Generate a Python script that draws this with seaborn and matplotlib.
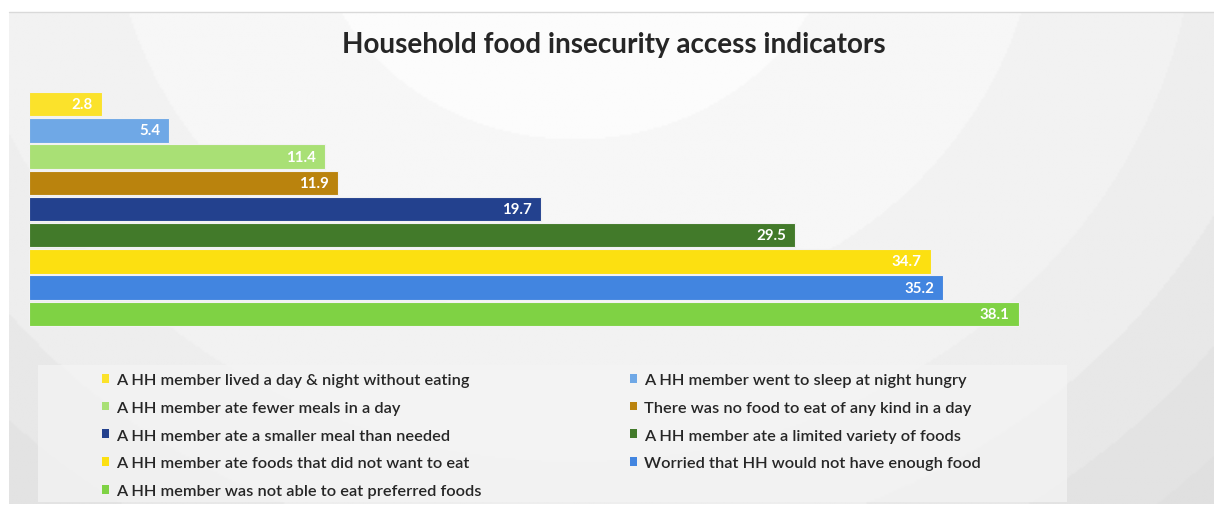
import numpy as np
import pandas as pd
import matplotlib
matplotlib.use("Agg")
import matplotlib.pyplot as plt
from matplotlib.patches import Rectangle, Patch
import seaborn as sns

indicators = [
    "A HH member lived a day & night without eating",
    "A HH member went to sleep at night hungry",
    "A HH member ate fewer meals in a day",
    "There was no food to eat of any kind in a day",
    "A HH member ate a smaller meal than needed",
    "A HH member ate a limited variety of foods",
    "A HH member ate foods that did not want to eat",
    "Worried that HH would not have enough food",
    "A HH member was not able to eat preferred foods",
]
percent = [2.8, 5.4, 11.4, 11.9, 19.7, 29.5, 34.7, 35.2, 38.1]
bar_colors = ["#FBE22B", "#6FA8E6", "#A9E075", "#BA830D", "#23418E",
              "#427A2A", "#FCE011", "#4285E0", "#7FD244"]

title = "Household food insecurity access indicators"

W, H = 1214, 506
sns.set_theme(style="white")
plt.rcParams["font.family"] = ["Lato", "DejaVu Sans"]

fig = plt.figure(figsize=(W / 100, H / 100), dpi=100)
fig.patch.set_facecolor("white")


def px_box(x0, y0, x1, y1):
    return [x0 / W, 1 - y1 / H, (x1 - x0) / W, (y1 - y0) / H]


# Panel background: banded radial shading, light at top centre
bg = fig.add_axes(px_box(9, 13, W, 505))
bg.set_axis_off()
gx = np.linspace(9, W, 600)
gy = np.linspace(13, 505, 260)
XX, YY = np.meshgrid(gx, gy)
d = np.sqrt(((XX - 575) / 265.0) ** 2 + ((YY + 100) / 240.0) ** 2)
levels = np.array([1.0, 1.75, 2.35, 2.75, 3.05, 3.35])
shades = np.array([0.988, 0.968, 0.948, 0.93, 0.91, 0.89, 0.875])
band = np.searchsorted(levels, d)
img = shades[band]
bg.imshow(img, cmap="gray", vmin=0, vmax=1, aspect="auto",
          extent=(0, 1, 0, 1), interpolation="bilinear")
bg.set_xlim(0, 1)
bg.set_ylim(0, 1)
# thin shadow line on the panel top
fig.add_artist(plt.Line2D([9 / W, 1], [1 - 13 / H, 1 - 13 / H],
                          color="#d9d9d9", lw=1.0))

# Legend box behind the legend
fig.add_artist(Rectangle((38 / W, 1 - 503 / H), (1067 - 38) / W, (503 - 366) / H,
                         transform=fig.transFigure, facecolor="#f4f4f4",
                         alpha=0.75, edgecolor="none", zorder=1))

# Bars
ax = fig.add_axes(px_box(29, 92, 1185, 328))
ax.patch.set_alpha(0)
df = pd.DataFrame({"indicator": indicators, "percent": percent})
sns.barplot(data=df, x="percent", y="indicator", hue="indicator",
            palette=bar_colors, hue_order=indicators, order=indicators,
            orient="h", width=0.93, legend=False, dodge=False, saturation=1,
            edgecolor="#f2f2f2", linewidth=0.8, ax=ax)
ax.set_xlim(0, 1156 / 25.98)
ax.set_ylim(8.5, -0.5)
ax.set_axis_off()

for i, v in enumerate(percent):
    ax.text(v - 0.35, i, f"{v}", ha="right", va="center", color="white",
            fontsize=10.8, fontweight="bold")

fig.text(614 / W, 1 - 45 / H, title, ha="center", va="center",
         fontsize=20.1, fontweight="bold", color="#262626")

# Legend: odd-numbered items in the left column, even-numbered on the right
handles = [Patch(facecolor=c, edgecolor="none") for c in bar_colors]
leg_kw = dict(loc="upper left", frameon=False, fontsize=11.8,
              handlelength=0.45, handleheight=0.45, handletextpad=0.4,
              labelspacing=0.84, borderpad=0, borderaxespad=0)
columns = [([0, 2, 4, 6, 8], 102), ([1, 3, 5, 7], 630)]
for idx, x0 in columns:
    leg = fig.legend([handles[k] for k in idx], [indicators[k] for k in idx],
                     bbox_to_anchor=(x0 / W, 1 - 374 / H), **leg_kw)
    for t in leg.get_texts():
        t.set_color("#262626")
        t.set_fontweight("semibold")

fig.savefig("out.png", dpi=100, facecolor="white")
